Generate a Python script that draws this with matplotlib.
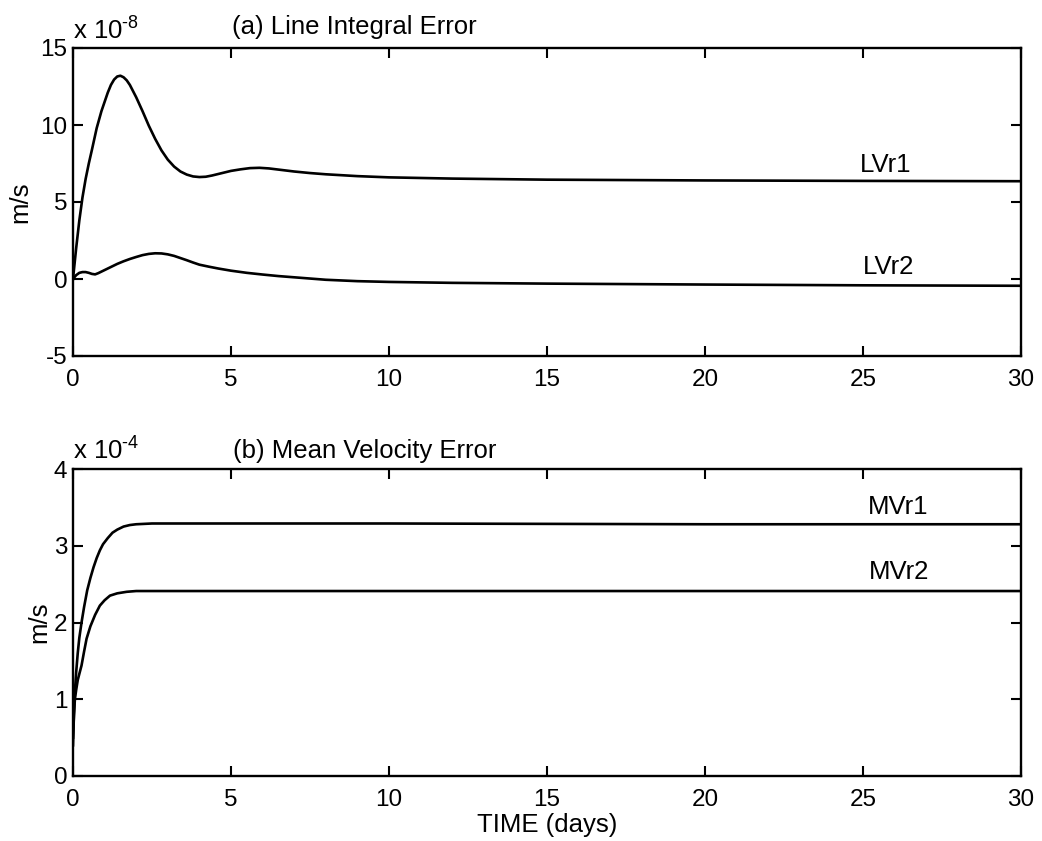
import matplotlib
matplotlib.use("Agg")
import matplotlib.pyplot as plt

plt.rcParams['font.family'] = ['Liberation Sans', 'DejaVu Sans']
plt.rcParams['mathtext.fontset'] = 'custom'
plt.rcParams['mathtext.rm'] = 'Liberation Sans'
plt.rcParams['mathtext.it'] = 'Liberation Sans'
plt.rcParams['axes.unicode_minus'] = False

# ---- data (top panel in units of 1e-8 m/s, bottom in 1e-4 m/s) ----
lv1_t = [0, 0.05, 0.1, 0.2, 0.3, 0.4, 0.5, 0.6, 0.75, 0.9, 1.0, 1.1, 1.2, 1.3, 1.4,
         1.5, 1.6, 1.7, 1.8, 1.9, 2.0, 2.2, 2.4, 2.6, 2.8, 3.0, 3.2, 3.4, 3.6, 3.8,
         4.0, 4.2, 4.4, 4.6, 4.8, 5.0, 5.3, 5.6, 5.9, 6.2, 6.6, 7.0, 7.5, 8.0, 9.0,
         10, 12, 15, 20, 25, 30]
lv1_v = [0, 1.0, 2.0, 3.8, 5.3, 6.5, 7.5, 8.4, 9.8, 10.9, 11.5, 12.1, 12.6, 12.95,
         13.15, 13.2, 13.1, 12.9, 12.6, 12.2, 11.8, 10.9, 9.95, 9.1, 8.35, 7.75, 7.3,
         6.98, 6.78, 6.66, 6.62, 6.64, 6.72, 6.82, 6.92, 7.02, 7.12, 7.2, 7.22, 7.18,
         7.08, 6.98, 6.88, 6.8, 6.68, 6.6, 6.52, 6.45, 6.4, 6.37, 6.35]

lv2_t = [0, 0.1, 0.2, 0.3, 0.4, 0.5, 0.6, 0.7, 0.8, 1.0, 1.2, 1.4, 1.6, 1.8, 2.0,
         2.2, 2.4, 2.6, 2.8, 3.0, 3.2, 3.4, 3.6, 3.8, 4.0, 4.3, 4.6, 5.0, 5.5, 6.0,
         6.5, 7.0, 7.5, 8.0, 9.0, 10, 12, 15, 20, 25, 30]
lv2_v = [0, 0.25, 0.4, 0.45, 0.45, 0.4, 0.33, 0.3, 0.38, 0.58, 0.78, 0.98, 1.15,
         1.3, 1.43, 1.55, 1.63, 1.67, 1.66, 1.6, 1.5, 1.36, 1.22, 1.07, 0.93, 0.8,
         0.68, 0.54, 0.4, 0.29, 0.19, 0.11, 0.03, -0.05, -0.14, -0.19, -0.25, -0.3,
         -0.36, -0.41, -0.44]

mv1_t = [0, 0.03, 0.06, 0.1, 0.15, 0.2, 0.27, 0.35, 0.45, 0.55, 0.65, 0.75, 0.85,
         0.95, 1.1, 1.25, 1.4, 1.6, 1.8, 2.0, 2.5, 5, 10, 20, 30]
mv1_v = [0.4, 0.8, 1.1, 1.35, 1.6, 1.8, 2.0, 2.2, 2.42, 2.58, 2.72, 2.84, 2.94, 3.02,
         3.1, 3.17, 3.21, 3.25, 3.27, 3.28, 3.29, 3.29, 3.29, 3.28, 3.28]

mv2_t = [0, 0.03, 0.06, 0.1, 0.15, 0.2, 0.27, 0.35, 0.43, 0.55, 0.7, 0.85, 1.0, 1.17,
         1.4, 1.7, 2.0, 2.5, 5, 10, 20, 30]
mv2_v = [0.5, 0.8, 1.0, 1.12, 1.25, 1.33, 1.44, 1.62, 1.79, 1.95, 2.1, 2.22, 2.29,
         2.35, 2.38, 2.40, 2.41, 2.41, 2.41, 2.41, 2.41, 2.41]

x_ticks = [0, 5, 10, 15, 20, 25, 30]
top_yticks = [-5, 0, 5, 10, 15]
bot_yticks = [0, 1, 2, 3, 4]

W, H = 1042, 841
fig = plt.figure(figsize=(W / 100, H / 100), dpi=100)

def px_axes(left, top, right, bottom):
    return fig.add_axes([left / W, 1 - bottom / H, (right - left) / W, (bottom - top) / H])

ax1 = px_axes(73, 48, 1021, 356)
ax2 = px_axes(73, 469, 1021, 776)

TFS = 17.5   # tick labels
FS = 18.5    # other text
for ax in (ax1, ax2):
    ax.set_xlim(0, 30)
    ax.set_xticks(x_ticks)
    ax.tick_params(direction='in', top=True, right=True, length=7, width=1.5,
                   labelsize=TFS)
    ax.tick_params(axis='x', pad=9)
    ax.tick_params(axis='y', pad=4)
    for s in ax.spines.values():
        s.set_linewidth(1.7)

ax1.set_ylim(-5, 15)
ax1.set_yticks(top_yticks)
ax2.set_ylim(0, 4)
ax2.set_yticks(bot_yticks)
ax1.set_ylabel('m/s', fontsize=FS, labelpad=6)
ax2.set_ylabel('m/s', fontsize=FS, labelpad=2)

lw = 1.9
ax1.plot(lv1_t, lv1_v, color='black', lw=lw)
ax1.plot(lv2_t, lv2_v, color='black', lw=lw)
ax2.plot(mv1_t, mv1_v, color='black', lw=lw)
ax2.plot(mv2_t, mv2_v, color='black', lw=lw)

ax1.text(24.9, 6.95, 'LVr1', fontsize=FS, ha='left', va='baseline')
ax1.text(25.0, 0.31, 'LVr2', fontsize=FS, ha='left', va='baseline')
ax2.text(25.15, 3.42, 'MVr1', fontsize=FS, ha='left', va='baseline')
ax2.text(25.2, 2.57, 'MVr2', fontsize=FS, ha='left', va='baseline')

ax1.text(73 / W, 1 - 40 / H, r'x 10$^{\text{-8}}$', transform=fig.transFigure,
         fontsize=FS, ha='left', va='baseline')
ax2.text(73 / W, 1 - 460 / H, r'x 10$^{\text{-4}}$', transform=fig.transFigure,
         fontsize=FS, ha='left', va='baseline')
fig.text(232 / W, 1 - 34 / H, '(a) Line Integral Error', fontsize=FS,
         ha='left', va='baseline')
fig.text(233 / W, 1 - 458 / H, '(b) Mean Velocity Error', fontsize=FS,
         ha='left', va='baseline')

ax2.set_xlabel('TIME (days)', fontsize=FS, labelpad=2)

fig.savefig('out.png', dpi=100)
